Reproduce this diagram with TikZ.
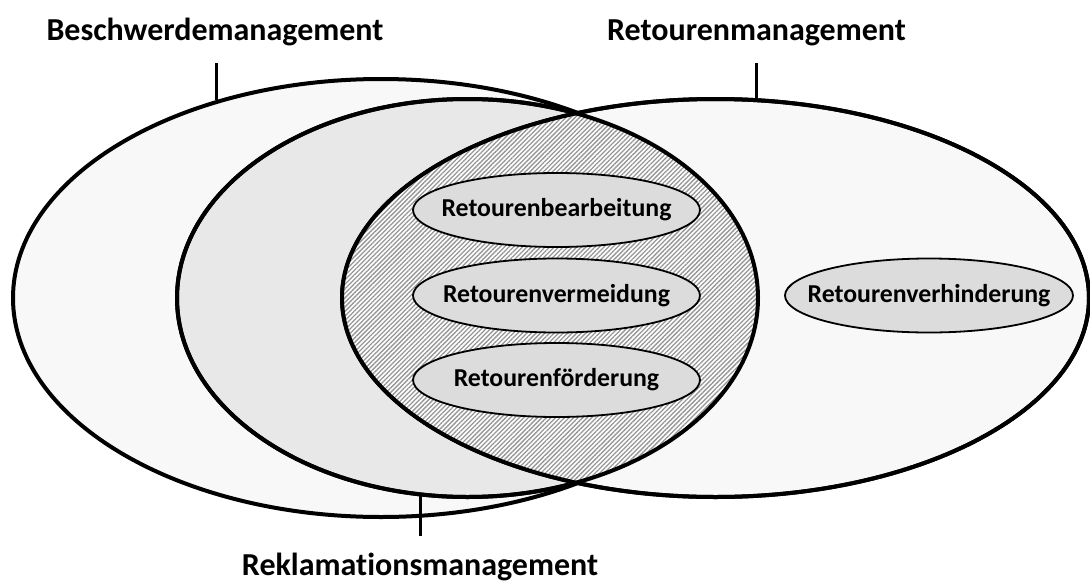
\documentclass[tikz,border=0pt]{standalone}
\usepackage{fontspec}
\setmainfont{Carlito}[Ligatures=NoCommon]
\usetikzlibrary{shapes.geometric,patterns.meta}

\definecolor{paleFill}{HTML}{F8F8F8}
\definecolor{midFill}{HTML}{E8E8E8}
\definecolor{itemFill}{HTML}{DCDCDC}
\definecolor{hatchInk}{HTML}{969696}

\begin{document}
\begin{tikzpicture}[x=1pt,y=-1pt,
  area/.style={ellipse, draw, line width=4pt, inner sep=0pt},
  outline/.style={line width=4pt},
  itembg/.style={draw, line width=1.8pt, fill=itemFill},
  item/.style={inner sep=0pt, font=\bfseries\fontsize{25.8}{30}\selectfont},
  title/.style={font=\bfseries\fontsize{32}{38}\selectfont, anchor=base, inner sep=0pt},
  leader/.style={line width=2.2pt}]
\useasboundingbox (0,0) rectangle (1090,584);

% the three areas
\node[area, fill=paleFill, minimum width=736pt, minimum height=438pt] (besch) at (381,298) {};
\node[area, fill=midFill, minimum width=581pt, minimum height=398pt] (rekl) at (467.5,298) {};
\node[area, fill=paleFill, minimum width=747pt, minimum height=398pt] (ret) at (715.5,298) {};

% hatched overlap of complaints and returns
\begin{scope}
  \clip (rekl.center) ellipse [x radius=290.5pt, y radius=199pt];
  \fill[white] (ret.center) ellipse [x radius=373.5pt, y radius=199pt];
  \fill[pattern={Lines[angle=45,distance=3.2pt,line width=1.3pt]}, pattern color=hatchInk]
    (ret.center) ellipse [x radius=373.5pt, y radius=199pt];
\end{scope}
\draw[outline] (rekl.center) ellipse [x radius=290.5pt, y radius=199pt];
\draw[outline] (ret.center) ellipse [x radius=373.5pt, y radius=199pt];

% activities
\draw[itembg] (556.5,210) ellipse [x radius=143.5pt, y radius=37pt];
\draw[itembg] (556.5,295.5) ellipse [x radius=143.5pt, y radius=37pt];
\draw[itembg] (556.5,380) ellipse [x radius=143.5pt, y radius=37pt];
\draw[itembg] (929,295.5) ellipse [x radius=144pt, y radius=37pt];
\node[item] (bearb) at (556.5,210) {Retourenbearbeitung};
\node[item] (verm) at (556.5,295.5) {Retourenvermeidung};
\node[item] (foerd) at (556.5,380) {Retourenförderung};
\node[item] (verh) at (929,295.5) {Retourenverhinderung};

% titles with their leaders
\node[title] (tBesch) at (215,40) {Beschwerdemanagement};
\node[title] (tRet) at (756.5,40) {Retourenmanagement};
\node[title] (tRekl) at (420,575) {Reklamationsmanagement};

\coordinate (sBesch) at (216.5,63);
\coordinate (sRet) at (756.5,63);
\coordinate (sRekl) at (420.5,536);
\draw[leader] (sBesch) -- (sBesch |- besch.130);
\draw[leader] (sRet) -- (sRet |- ret.78);
\draw[leader] (sRekl) -- (sRekl |- rekl.256);
\end{tikzpicture}
\end{document}
